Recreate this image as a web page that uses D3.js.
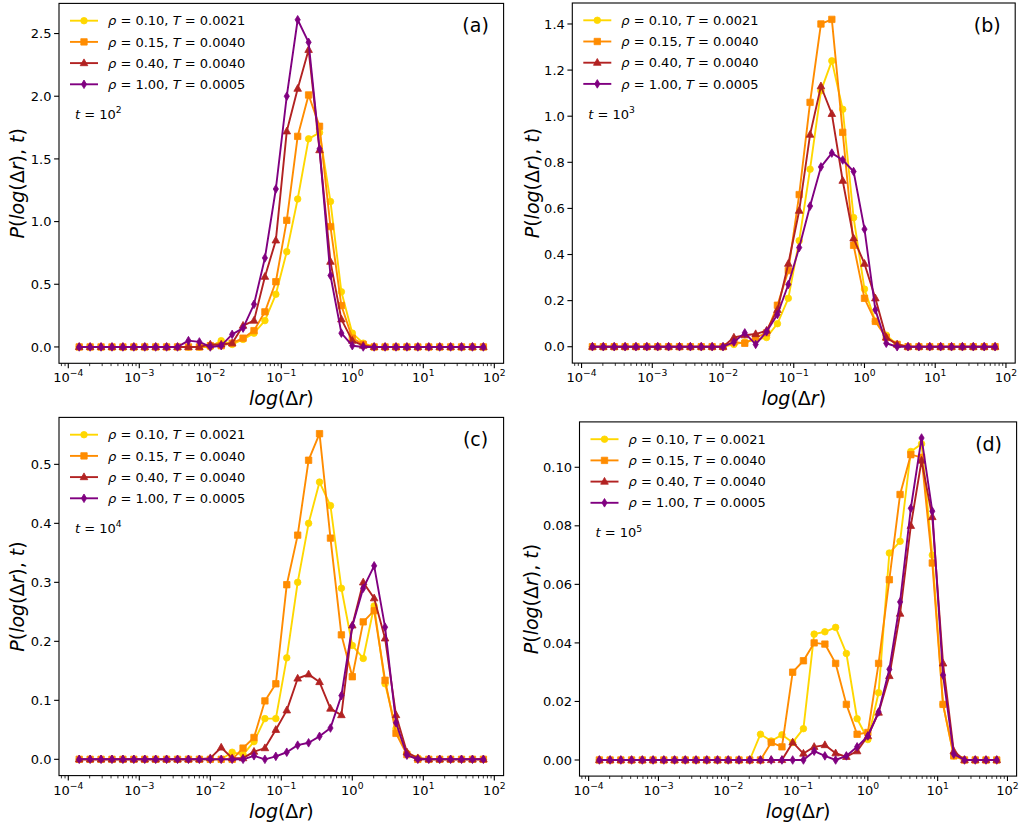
<!DOCTYPE html>
<html><head><meta charset="utf-8">
<script src="https://cdn.jsdelivr.net/npm/d3@7"></script>
<style>
body{margin:0;background:#fff}
svg text{font-family:"DejaVu Sans",sans-serif;fill:#000}
</style>
</head><body>
<svg id="chart" width="1019" height="827"></svg>
<script>
// ---------------- DATA ----------------
const xValues = [1.425e-4, 2.031e-4, 2.894e-4, 4.125e-4, 5.878e-4, 8.377e-4, 1.194e-3, 1.701e-3,
  2.424e-3, 3.455e-3, 4.924e-3, 7.017e-3, 1.0e-2, 1.425e-2, 2.031e-2, 2.894e-2, 4.125e-2, 5.878e-2,
  8.377e-2, 0.1194, 0.1701, 0.2424, 0.3455, 0.4924, 0.7017, 1.0, 1.425, 2.031, 2.894, 4.125, 5.878,
  8.377, 11.94, 17.01, 24.24, 34.55, 49.24, 70.17];

const seriesRho = ["0.10", "0.15", "0.40", "1.00"];
const seriesT   = ["0.0021", "0.0040", "0.0040", "0.0005"];
const panelTags = ["(a)", "(b)", "(c)", "(d)"];
const timeExps  = ["2", "3", "4", "5"];
const xTickExps = [-4, -3, -2, -1, 0, 1, 2];

const yTicksA = [0, 0.5, 1.0, 1.5, 2.0, 2.5];
const yTicksB = [0, 0.2, 0.4, 0.6, 0.8, 1.0, 1.2, 1.4];
const yTicksC = [0, 0.1, 0.2, 0.3, 0.4, 0.5];
const yTicksD = [0, 0.02, 0.04, 0.06, 0.08, 0.10];

// panel (a), t = 10^2
const a_rho010 = [0,0,0,0,0,0,0,0,0,0,0,0,0,0.05,0.02,0.06,0.11,0.21,0.42,0.76,1.18,1.66,1.71,1.16,0.44,0.11,0.03,0,0,0,0,0,0,0,0,0,0,0];
const a_rho015 = [0,0,0,0,0,0,0,0,0,0,0,0,0.01,0.01,0.03,0.07,0.13,0.28,0.52,1.01,1.68,2.01,1.76,0.96,0.33,0.07,0.02,0,0,0,0,0,0,0,0,0,0,0];
const a_rho040 = [0,0,0,0,0,0,0,0,0,0,0,0,0.02,0.02,0.03,0.17,0.21,0.56,0.85,1.72,2.06,2.37,1.57,0.68,0.22,0.05,0.01,0,0,0,0,0,0,0,0,0,0,0];
const a_rho100 = [0,0,0,0,0,0,0,0,0,0,0.05,0.04,0.0,0.01,0.10,0.15,0.34,0.71,1.26,2.00,2.61,2.43,1.58,0.57,0.11,0.01,0,0,0,0,0,0,0,0,0,0,0,0];

// panel (b), t = 10^3
const b_rho010 = [0,0,0,0,0,0,0,0,0,0,0,0,0,0.01,0.02,0.03,0.04,0.10,0.21,0.46,0.77,1.11,1.24,1.03,0.56,0.25,0.11,0.05,0.01,0,0,0,0,0,0,0,0,0];
const b_rho015 = [0,0,0,0,0,0,0,0,0,0,0,0,0,0.02,0.015,0.04,0.06,0.18,0.33,0.66,1.06,1.40,1.42,0.93,0.44,0.21,0.11,0.04,0.01,0,0,0,0,0,0,0,0,0];
const b_rho040 = [0,0,0,0,0,0,0,0,0,0,0,0,0,0.04,0.05,0.055,0.07,0.16,0.36,0.59,0.92,1.13,1.01,0.72,0.47,0.36,0.21,0.04,0.01,0,0,0,0,0,0,0,0,0];
const b_rho100 = [0,0,0,0,0,0,0,0,0,0,0,0,0,0.02,0.06,0.01,0.065,0.14,0.27,0.43,0.61,0.78,0.84,0.81,0.76,0.51,0.16,0.015,0,0,0,0,0,0,0,0,0,0];

// panel (c), t = 10^4
const c_rho010 = [0,0,0,0,0,0,0,0,0,0,0,0,0,0,0.012,0.008,0.03,0.069,0.069,0.172,0.30,0.40,0.47,0.43,0.29,0.193,0.171,0.26,0.128,0.052,0.01,0.002,0,0,0,0,0,0];
const c_rho015 = [0,0,0,0,0,0,0,0,0,0,0,0,0,0,0,0.019,0.037,0.099,0.128,0.296,0.38,0.507,0.552,0.375,0.211,0.14,0.233,0.252,0.134,0.044,0.008,0,0,0,0,0,0,0];
const c_rho040 = [0,0,0,0,0,0,0,0,0,0,0,0,0.002,0.02,0.002,0.002,0.013,0.019,0.05,0.083,0.137,0.144,0.131,0.086,0.075,0.227,0.30,0.273,0.205,0.075,0.012,0.002,0,0,0,0,0,0];
const c_rho100 = [0,0,0,0,0,0,0,0,0,0,0,0,0,0,0,0,0.006,0,0.005,0.012,0.024,0.028,0.039,0.053,0.108,0.226,0.29,0.328,0.224,0.062,0.007,0,0,0,0,0,0,0];

// panel (d), t = 10^5
const d_rho010 = [0,0,0,0,0,0,0,0,0,0,0,0,0,0,0,0.0088,0.0065,0.0086,0.006,0.0107,0.043,0.0438,0.0453,0.0364,0.0141,0.007,0.023,0.0707,0.0747,0.1054,0.108,0.070,0.019,0.0014,0,0,0,0];
const d_rho015 = [0,0,0,0,0,0,0,0,0,0,0,0,0,0,0,0,0.006,0.0045,0.030,0.0339,0.040,0.0396,0.033,0.019,0.0088,0.0094,0.033,0.0616,0.0907,0.1043,0.1034,0.0673,0.019,0.0014,0,0,0,0];
const d_rho040 = [0,0,0,0,0,0,0,0,0,0,0,0,0,0,0,0,0,0,0.006,0.0022,0.0045,0.0051,0.0023,0.0011,0.003,0.0082,0.0162,0.0287,0.050,0.080,0.1023,0.083,0.033,0.003,0,0,0,0];
const d_rho100 = [0,0,0,0,0,0,0,0,0,0,0,0,0,0,0,0,0,0,0,0,0.003,0.0014,0,0.0014,0.0045,0.0082,0.0164,0.031,0.054,0.086,0.110,0.085,0.029,0.002,0,0,0,0];

const panelSeries = [
  [a_rho010, a_rho015, a_rho040, a_rho100],
  [b_rho010, b_rho015, b_rho040, b_rho100],
  [c_rho010, c_rho015, c_rho040, c_rho100],
  [d_rho010, d_rho015, d_rho040, d_rho100]
];
const panelYTicks = [yTicksA, yTicksB, yTicksC, yTicksD];
const panelYFmt = [d3.format(".1f"), d3.format(".1f"), d3.format(".1f"), d3.format(".2f")];

// ---------------- STYLE / LAYOUT ----------------
const colors = ["#FFD700", "#FF8C00", "#B22222", "#800080"];
const markers = ["circle", "square", "triangle", "thindiamond"];
const boxes = [
  {l: 59.0,  r: 503.6,  t: 3.4,   b: 363.3, ylab: 17},
  {l: 572.3, r: 1015.2, t: 3.0,   b: 363.1, ylab: 532},
  {l: 59.0,  r: 503.6,  t: 417.4, b: 775.6, ylab: 17},
  {l: 579.5, r: 1016.6, t: 421.9, b: 776.1, ylab: 531}
];

const svg = d3.select("#chart");

function markerPath(type) {
  const s = 3.2;
  switch (type) {
    case "circle": return d3.symbol(d3.symbolCircle, 34)();
    case "square": return `M${-s},${-s}H${s}V${s}H${-s}Z`;
    case "triangle": return `M0,${-4.2}L${3.8},${2.6}L${-3.8},${2.6}Z`;
    case "thindiamond": return `M0,${-4.3}L${2.6},0L0,${4.3}L${-2.6},0Z`;
  }
}

function drawMarker(g, type, color, x, y) {
  g.append("path").attr("d", markerPath(type))
    .attr("transform", `translate(${x},${y})`)
    .attr("fill", color).attr("stroke", color).attr("stroke-width", 0.8);
}

panelSeries.forEach((series, p) => {
  const box = boxes[p];
  const g = svg.append("g");

  const lx0 = Math.log10(d3.min(xValues)), lx1 = Math.log10(d3.max(xValues));
  const xm = (lx1 - lx0) * 0.05;
  const x = d3.scaleLog().domain([Math.pow(10, lx0 - xm), Math.pow(10, lx1 + xm)]).range([box.l, box.r]);
  const ymax = d3.max(series, s => d3.max(s)), ymin = 0;
  const ym = (ymax - ymin) * 0.05;
  const y = d3.scaleLinear().domain([ymin - ym, ymax + ym]).range([box.b, box.t]);

  const clipId = "clip" + p;
  svg.append("clipPath").attr("id", clipId).append("rect")
    .attr("x", box.l).attr("y", box.t).attr("width", box.r - box.l).attr("height", box.b - box.t);

  const plot = g.append("g").attr("clip-path", `url(#${clipId})`);
  const line = d3.line().x((d, i) => x(xValues[i])).y(d => y(d));
  series.forEach((vals, si) => {
    plot.append("path").datum(vals).attr("d", line)
      .attr("fill", "none").attr("stroke", colors[si]).attr("stroke-width", 1.9)
      .attr("stroke-linejoin", "round");
    vals.forEach((v, i) => drawMarker(plot, markers[si], colors[si], x(xValues[i]), y(v)));
  });

  g.append("rect").attr("x", box.l).attr("y", box.t)
    .attr("width", box.r - box.l).attr("height", box.b - box.t)
    .attr("fill", "none").attr("stroke", "#000").attr("stroke-width", 1.1);

  xTickExps.forEach(e => {
    const v = Math.pow(10, e), px = x(v);
    g.append("line").attr("x1", px).attr("x2", px).attr("y1", box.b).attr("y2", box.b + 4.9)
      .attr("stroke", "#000").attr("stroke-width", 1.1);
    const t = g.append("text").attr("x", px).attr("y", box.b + 19).attr("text-anchor", "middle")
      .attr("font-size", 13);
    t.append("tspan").text("10");
    t.append("tspan").attr("dy", -6).attr("font-size", 9.2).text(e < 0 ? "\u2212" + (-e) : String(e));
  });
  const [d0, d1] = x.domain();
  for (let e = -5; e <= 2; e++) {
    for (let m = 2; m <= 9; m++) {
      const v = m * Math.pow(10, e);
      if (v < d0 || v > d1) continue;
      const px = x(v);
      g.append("line").attr("x1", px).attr("x2", px).attr("y1", box.b).attr("y2", box.b + 2.8)
        .attr("stroke", "#000").attr("stroke-width", 0.8);
    }
  }
  const xl = g.append("text").attr("x", (box.l + box.r) / 2).attr("y", box.b + 42)
    .attr("text-anchor", "middle").attr("font-size", 19);
  xl.append("tspan").attr("font-style", "italic").text("log");
  xl.append("tspan").text("(\u0394");
  xl.append("tspan").attr("font-style", "italic").text("r");
  xl.append("tspan").text(")");

  panelYTicks[p].forEach(tv => {
    const py = y(tv);
    g.append("line").attr("x1", box.l - 4.9).attr("x2", box.l).attr("y1", py).attr("y2", py)
      .attr("stroke", "#000").attr("stroke-width", 1.1);
    g.append("text").attr("x", box.l - 7.5).attr("y", py).attr("dy", "0.36em")
      .attr("text-anchor", "end").attr("font-size", 13).text(panelYFmt[p](tv));
  });
  const cy = (box.t + box.b) / 2;
  const yl = g.append("text").attr("transform", `translate(${box.ylab},${cy}) rotate(-90)`)
    .attr("text-anchor", "middle").attr("dy", "0.35em").attr("font-size", 19);
  yl.append("tspan").attr("font-style", "italic").text("P");
  yl.append("tspan").text("(");
  yl.append("tspan").attr("font-style", "italic").text("log");
  yl.append("tspan").text("(\u0394");
  yl.append("tspan").attr("font-style", "italic").text("r");
  yl.append("tspan").text("), ");
  yl.append("tspan").attr("font-style", "italic").text("t");
  yl.append("tspan").text(")");

  const lgx = box.l + 11, lgy = box.t + 17.3, rowH = 21.2;
  seriesRho.forEach((rho, si) => {
    const ry = lgy + si * rowH;
    g.append("line").attr("x1", lgx).attr("x2", lgx + 28).attr("y1", ry).attr("y2", ry)
      .attr("stroke", colors[si]).attr("stroke-width", 1.9);
    drawMarker(g, markers[si], colors[si], lgx + 14, ry);
    const t = g.append("text").attr("x", lgx + 38).attr("y", ry).attr("dy", "0.36em").attr("font-size", 13);
    t.append("tspan").attr("font-style", "italic").text("\u03C1");
    t.append("tspan").text(" = " + rho + ", ");
    t.append("tspan").attr("font-style", "italic").text("T");
    t.append("tspan").text(" = " + seriesT[si]);
  });

  const tt = g.append("text").attr("x", box.l + 16).attr("y", box.t + 115.5).attr("font-size", 13);
  tt.append("tspan").attr("font-style", "italic").text("t");
  tt.append("tspan").text(" = 10");
  tt.append("tspan").attr("dy", -5.5).attr("font-size", 9.2).text(timeExps[p]);

  g.append("text").attr("x", box.r - 28).attr("y", box.t + 22).attr("dy", "0.36em")
    .attr("text-anchor", "middle").attr("font-size", 19).text(panelTags[p]);
});
</script>
</body></html>
